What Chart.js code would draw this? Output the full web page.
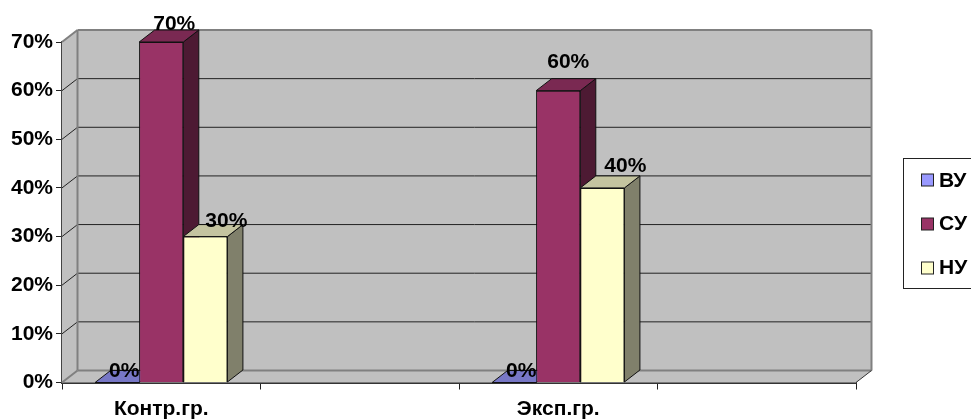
<!DOCTYPE html>
<html>
<head>
<meta charset="utf-8">
<style>html,body{margin:0;padding:0;background:#fff;overflow:hidden}canvas{display:block}</style>
<script src="https://cdn.jsdelivr.net/npm/chart.js@4"></script>
</head>
<body>
<canvas id="c" width="971" height="419"></canvas>
<script>
const categories = ['Контр.гр.', '', 'Эксп.гр.', ''];
const seriesNames = ['ВУ', 'СУ', 'НУ'];
const vuValues = [0, null, 0, null];
const suValues = [70, null, 60, null];
const nuValues = [30, null, 40, null];
const yTicks = [0, 10, 20, 30, 40, 50, 60, 70];

const frontColors = ['#9999FF', '#993366', '#FFFFCC'];
const topColors = ['#7777C6', '#7A2952', '#C4C4A0'];
const sideColors = ['#4D4D80', '#4D1A33', '#80806B'];

const FONT_SIZE = 21;
const FONT = 'bold ' + FONT_SIZE + 'px "Liberation Sans", Arial, sans-serif';
const DX = 15.5, DY = 12;
// label nudges relative to each bar's top-front centre: [dx, dy] per series, per category
const labelNudge = {
  '0:0': [7, -11], '0:2': [7, -11],
  '1:0': [13, -18], '1:2': [10, -28],
  '2:0': [21, -15], '2:2': [23, -22]
};

function poly(ctx, pts, fill, stroke, lw) {
  ctx.beginPath();
  pts.forEach((p, i) => i ? ctx.lineTo(p[0], p[1]) : ctx.moveTo(p[0], p[1]));
  ctx.closePath();
  if (fill) { ctx.fillStyle = fill; ctx.fill(); }
  if (stroke) { ctx.strokeStyle = stroke; ctx.lineWidth = lw || 1; ctx.stroke(); }
}
function line(ctx, x1, y1, x2, y2, color, lw) {
  ctx.beginPath(); ctx.moveTo(x1, y1); ctx.lineTo(x2, y2);
  ctx.strokeStyle = color; ctx.lineWidth = lw; ctx.stroke();
}

const walls3d = {
  id: 'walls3d',
  beforeDatasetsDraw(chart) {
    const { ctx, chartArea: a, scales: { y } } = chart;
    const L = a.left, R = a.right, T = a.top, B = a.bottom;
    ctx.save();
    const GRAY = '#808080';
    poly(ctx, [[L + DX, T - DY], [R + DX, T - DY], [R + DX, B - DY], [L + DX, B - DY]], '#C0C0C0');
    poly(ctx, [[L, T], [L + DX, T - DY], [L + DX, B - DY], [L, B]], '#C0C0C0');
    poly(ctx, [[L, B], [L + DX, B - DY], [R + DX, B - DY], [R, B]], '#C0C0C0');
    yTicks.slice(1, -1).forEach(v => {
      const py = y.getPixelForValue(v);
      line(ctx, L, py, L + DX, py - DY, '#222', 1);
      line(ctx, L + DX, py - DY, R + DX, py - DY, '#222', 1);
    });
    line(ctx, L, T, L + DX, T - DY, GRAY, 2);
    line(ctx, L, B, L + DX, B - DY, GRAY, 2);
    line(ctx, L + DX, T - DY, L + DX, B - DY, GRAY, 2);
    line(ctx, L + DX, T - DY, R + DX, T - DY, GRAY, 2);
    line(ctx, R + DX, T - DY, R + DX, B - DY, GRAY, 2);
    line(ctx, L + DX, B - DY, R + DX, B - DY, GRAY, 2);
    line(ctx, R, B, R + DX, B - DY, '#333', 1);
    ctx.restore();
  },
  afterDatasetsDraw(chart) {
    const { ctx } = chart;
    ctx.save();
    chart.data.datasets.forEach((ds, i) => {
      chart.getDatasetMeta(i).data.forEach((el, j) => {
        if (ds.data[j] === null) return;
        const l = el.x - el.width / 2, r = el.x + el.width / 2, t = el.y, b = el.base;
        poly(ctx, [[r, t], [r + DX, t - DY], [r + DX, b - DY], [r, b]], sideColors[i], '#111', 1);
        poly(ctx, [[l, t], [r, t], [r + DX, t - DY], [l + DX, t - DY]], topColors[i], '#111', 1);
        el.draw(ctx);
      });
    });
    // value labels
    ctx.font = FONT; ctx.fillStyle = '#000'; ctx.textAlign = 'center'; ctx.textBaseline = 'middle';
    chart.data.datasets.forEach((ds, i) => {
      chart.getDatasetMeta(i).data.forEach((el, j) => {
        if (ds.data[j] === null) return;
        const n = labelNudge[i + ':' + j];
        ctx.fillText(ds.data[j] + '%', el.x + n[0], el.y + n[1]);
      });
    });
    // legend
    const bx = 903.5, by = 158.5, bw = 80, bh = 130;
    ctx.fillStyle = '#fff'; ctx.fillRect(bx, by, bw, bh);
    ctx.strokeStyle = '#222'; ctx.lineWidth = 1; ctx.strokeRect(bx, by, bw, bh);
    ctx.textAlign = 'left';
    chart.data.datasets.forEach((ds, i) => {
      const cy = by + 21.5 + i * 44;
      ctx.fillStyle = frontColors[i]; ctx.fillRect(921.5, cy - 6, 12, 12);
      ctx.strokeStyle = '#222'; ctx.strokeRect(921.5, cy - 6, 12, 12);
      ctx.fillStyle = '#000'; ctx.fillText(ds.label, 939, cy + 1 - i * 0.5);
    });
    ctx.restore();
  }
};

new Chart(document.getElementById('c'), {
  type: 'bar',
  data: {
    labels: categories,
    datasets: seriesNames.map((n, i) => ({
      label: n,
      data: [vuValues, suValues, nuValues][i],
      backgroundColor: frontColors[i],
      borderColor: '#111',
      borderWidth: 1,
      categoryPercentage: 2 / 3,
      barPercentage: 1
    }))
  },
  plugins: [walls3d],
  options: {
    responsive: false,
    animation: false,
    devicePixelRatio: 1,
    layout: { padding: { left: 0, right: 115, top: 42, bottom: 0 } },
    plugins: { legend: { display: false }, tooltip: { enabled: false }, title: { display: false } },
    scales: {
      x: {
        afterFit(s) { s.height = 36.5; },
        grid: { drawOnChartArea: false, drawTicks: true, tickLength: 7, color: '#222', offset: true },
        border: { color: '#333', width: 2 },
        ticks: { color: '#000', font: { family: '"Liberation Sans", Arial, sans-serif', size: FONT_SIZE, weight: 'bold' }, maxRotation: 0, autoSkip: false, padding: 7 }
      },
      y: {
        min: 0, max: 70,
        afterFit(s) { s.width = 62; },
        afterBuildTicks(s) { s.ticks = yTicks.map(v => ({ value: v })); },
        grid: { drawOnChartArea: false, drawTicks: true, tickLength: 6, color: '#222' },
        border: { color: '#444', width: 2 },
        ticks: { color: '#000', font: { family: '"Liberation Sans", Arial, sans-serif', size: FONT_SIZE, weight: 'bold' }, padding: 3, callback: v => v + '%' }
      }
    }
  }
});
</script>
</body>
</html>
